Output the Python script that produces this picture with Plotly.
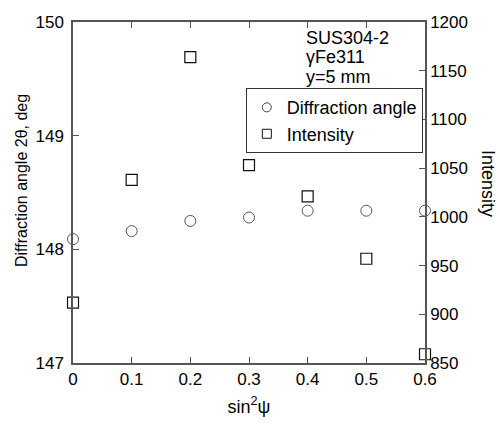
import plotly.graph_objects as go

sin2psi = [0.0, 0.1, 0.2, 0.3, 0.4, 0.5, 0.6]
diff_angle = [148.09, 148.16, 148.25, 148.28, 148.34, 148.34, 148.34]
intensity = [912, 1038, 1164, 1053, 1021, 957, 859]

x_ticks = [0, 0.1, 0.2, 0.3, 0.4, 0.5, 0.6]
x_ticklabels = ["0", "0.1", "0.2", "0.3", "0.4", "0.5", "0.6"]
y1_ticks = [147, 148, 149, 150]
y2_ticks = [850, 900, 950, 1000, 1050, 1100, 1150, 1200]

FONT = "Liberation Sans, Arial, sans-serif"
AX = "#555555"

fig = go.Figure()
fig.add_trace(go.Scatter(
    x=sin2psi, y=diff_angle, mode="markers", name="Diffraction angle",
    marker=dict(symbol="circle-open", size=11, color="#555555", line=dict(width=1)),
    cliponaxis=False, showlegend=False,
))
fig.add_trace(go.Scatter(
    x=sin2psi, y=intensity, mode="markers", name="Intensity", yaxis="y2",
    marker=dict(symbol="square-open", size=11, color="#111111", line=dict(width=1.2)),
    cliponaxis=False, showlegend=False,
))
# legend entries with smaller symbols
fig.add_trace(go.Scatter(
    x=[None], y=[None], mode="markers", name="Diffraction angle",
    marker=dict(symbol="circle-open", size=9, color="#444444", line=dict(width=1)),
))
fig.add_trace(go.Scatter(
    x=[None], y=[None], mode="markers", name="Intensity",
    marker=dict(symbol="square-open", size=9, color="#111111", line=dict(width=1)),
))

fig.update_layout(
    width=500, height=425,
    margin=dict(l=73, r=75, t=22, b=62),
    paper_bgcolor="white", plot_bgcolor="white",
    font=dict(family=FONT, size=17, color="black"),
    showlegend=True,
    legend=dict(
        x=0.491, y=0.806, xanchor="left", yanchor="top",
        bordercolor="#333333", borderwidth=1, bgcolor="white",
        font=dict(family=FONT, size=18, color="black"),
        itemsizing="trace", itemwidth=30,
    ),
    xaxis=dict(
        range=[0, 0.6], tickvals=x_ticks, ticktext=x_ticklabels,
        showline=True, linecolor=AX, linewidth=1.5, mirror="ticks",
        ticks="inside", ticklen=6, tickcolor=AX, tickwidth=1,
        showgrid=False, zeroline=False,
        title=dict(text="sin<sup>2</sup>ψ", font=dict(size=18), standoff=12),
    ),
    yaxis=dict(
        range=[147, 150], tickvals=y1_ticks,
        showline=True, linecolor=AX, linewidth=1.5,
        ticks="inside", ticklen=6, tickcolor=AX, tickwidth=1,
        showgrid=False, zeroline=False, ticklabelstandoff=4,
    ),
    yaxis2=dict(
        range=[850, 1200], tickvals=y2_ticks, overlaying="y", side="right",
        showline=True, linecolor=AX, linewidth=1.5,
        ticks="inside", ticklen=6, tickcolor=AX, tickwidth=1,
        showgrid=False, zeroline=False,
    ),
)

annos = [
    dict(text="Diffraction angle 2θ, deg", x=21, y=181, textangle=-90, size=16),
    dict(text="Intensity", x=488, y=183, textangle=90, size=18),
]
for a in annos:
    fig.add_annotation(
        text=a["text"], xref="paper", yref="paper",
        x=(a["x"] - 73) / 352, y=(363 - a["y"]) / 341,
        xanchor="center", yanchor="middle", showarrow=False,
        textangle=a["textangle"], font=dict(size=a["size"]),
    )

labels = ["SUS304-2", "γFe311", "y=5 mm"]
label_y = [38, 57, 77]
for t, yy in zip(labels, label_y):
    fig.add_annotation(
        text=t, xref="paper", yref="paper",
        x=(304 - 73) / 352, y=(363 - yy) / 341,
        xanchor="left", yanchor="middle", showarrow=False,
        font=dict(size=18),
    )

fig.write_html("out.html")
